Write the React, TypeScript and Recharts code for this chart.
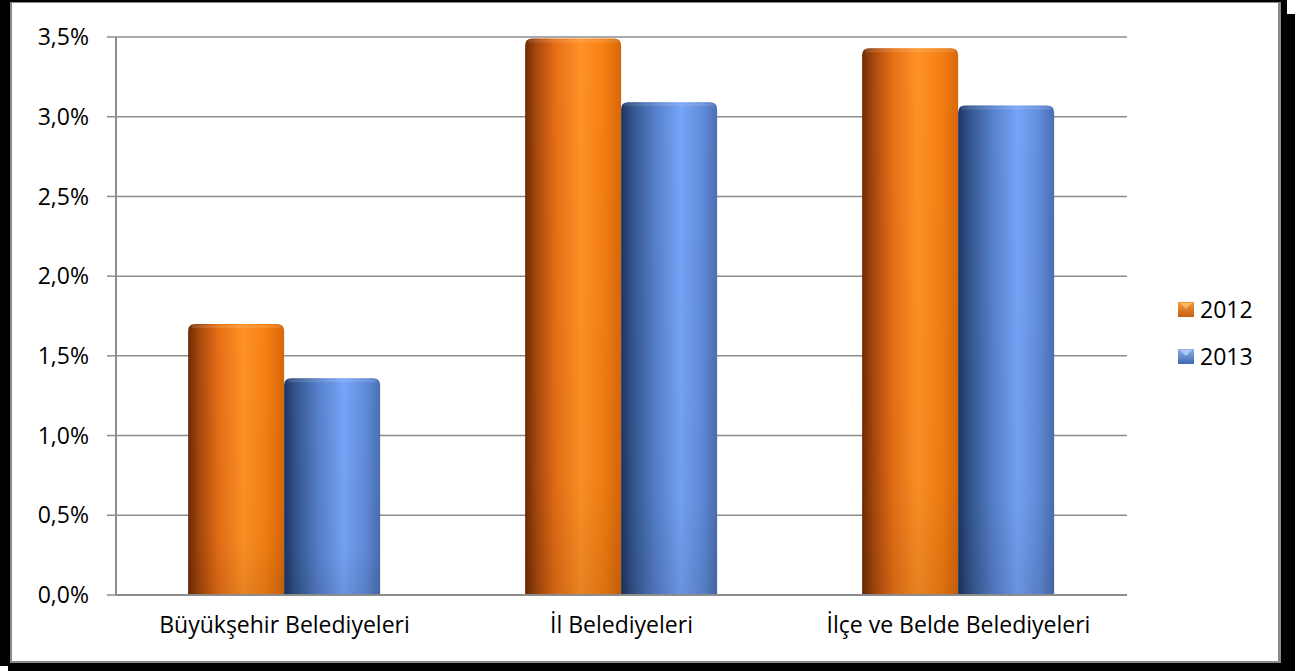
import React from 'react';
import { BarChart, Bar, XAxis, YAxis, CartesianGrid, Legend } from 'recharts';

const categories = ['Büyükşehir Belediyeleri', 'İl Belediyeleri', 'İlçe ve Belde Belediyeleri'];
const values2012 = [1.7, 3.49, 3.43];
const values2013 = [1.36, 3.09, 3.07];
const yTicks = [0, 0.5, 1, 1.5, 2, 2.5, 3, 3.5];
const boundaryTicks = [0, 1, 2, 3];
const seriesNames = ['2012', '2013'];

const data = categories.map((c, i) => ({ name: c, s2012: values2012[i], s2013: values2013[i] }));

const FONT = '"Open Sans", sans-serif';

const fmt = (v: number) => v.toFixed(1).replace('.', ',') + '%';

const BarShape = (props: any) => {
  const { x, y, width, height, gradId } = props;
  if (!height || height <= 0) return null;
  const r = Math.min(7, width / 2, height);
  const d = `M${x},${y + height} L${x},${y + r} Q${x},${y} ${x + r},${y} L${x + width - r},${y} Q${x + width},${y} ${x + width},${y + r} L${x + width},${y + height} Z`;
  return (
    <g>
      <path d={d} fill={`url(#${gradId})`} />
      <path d={d} fill="url(#vshade)" />
      <rect x={x + 3} y={y + 1} width={width - 6} height={3} rx={1.5} fill="#ffffff" opacity={0.12} />
    </g>
  );
};

const LegendMarker = ({ id }: { id: string }) => (
  <svg width={16} height={15} style={{ display: 'block' }}>
    <defs>
      <linearGradient id={`lm${id}`} x1="0" y1="0" x2="0" y2="1">
        {id === '2012' ? (
          <>
            <stop offset="0%" stopColor="#f59a3c" />
            <stop offset="100%" stopColor="#c65f10" />
          </>
        ) : (
          <>
            <stop offset="0%" stopColor="#8cb2ee" />
            <stop offset="100%" stopColor="#3f68ae" />
          </>
        )}
      </linearGradient>
    </defs>
    <rect x={0} y={0} width={16} height={15} fill={`url(#lm${id})`} />
    <polygon points="2,1 14,1 8,7" fill={id === '2012' ? '#ffc070' : '#b8d2ff'} opacity={0.8} />
  </svg>
);

const renderLegend = () => (
  <div style={{ fontFamily: FONT, fontSize: 23, color: '#000' }}>
    {seriesNames.map((n) => (
      <div key={n} style={{ display: 'flex', alignItems: 'center', height: 47 }}>
        <LegendMarker id={n} />
        <span style={{ marginLeft: 6, lineHeight: '23px' }}>{n}</span>
      </div>
    ))}
  </div>
);

export default function App() {
  return (
    <div style={{ position: 'absolute', left: 0, top: 0, width: 1302, height: 671, background: '#fff', overflow: 'hidden' }}>
      {/* shadow */}
      <div style={{ position: 'absolute', left: 8, top: 14, width: 1287, height: 657, background: '#000' }} />
      {/* frame */}
      <div style={{ position: 'absolute', left: 0, top: 0, width: 1287, height: 666, background: '#000' }} />
      <div style={{ position: 'absolute', left: 10, top: 2, width: 1271, height: 661, background: '#8a8a8a' }} />
      <div style={{ position: 'absolute', left: 12, top: 3, width: 1266, height: 658, background: '#fff' }} />
      <div style={{ position: 'absolute', left: 0, top: 0 }}>
        <BarChart
          width={1281}
          height={661}
          data={data}
          margin={{ top: 37, right: 154, left: 16, bottom: 26 }}
          barCategoryGap="21.4%"
          barGap={0}
        >
          <defs>
            <linearGradient id="gOrange" x1="0" y1="0" x2="1" y2="0">
              <stop offset="0%" stopColor="#6e2c06" />
              <stop offset="12%" stopColor="#a9490c" />
              <stop offset="32%" stopColor="#e86f16" />
              <stop offset="58%" stopColor="#ff9226" />
              <stop offset="82%" stopColor="#f57f12" />
              <stop offset="100%" stopColor="#d8670a" />
            </linearGradient>
            <linearGradient id="gBlue" x1="0" y1="0" x2="1" y2="0">
              <stop offset="0%" stopColor="#1d3560" />
              <stop offset="12%" stopColor="#34558f" />
              <stop offset="35%" stopColor="#557fc9" />
              <stop offset="62%" stopColor="#76a4f8" />
              <stop offset="84%" stopColor="#628ddc" />
              <stop offset="100%" stopColor="#4a6fb2" />
            </linearGradient>
            <linearGradient id="vshade" x1="0" y1="0" x2="0" y2="1">
              <stop offset="0%" stopColor="#000" stopOpacity={0} />
              <stop offset="80%" stopColor="#000" stopOpacity={0.03} />
              <stop offset="100%" stopColor="#000" stopOpacity={0.1} />
            </linearGradient>
          </defs>
          <CartesianGrid xAxisId="cat" vertical={false} stroke="#8c8c8c" strokeWidth={1.5} />
          <XAxis
            xAxisId="b"
            type="number"
            domain={[0, 3]}
            ticks={boundaryTicks}
            height={0}
            axisLine={false}
            tickLine={{ stroke: '#8c8c8c', strokeWidth: 1.5 }}
            tickSize={8}
            tickFormatter={() => ''}
            allowDataOverflow
          />
          <XAxis
            xAxisId="cat"
            dataKey="name"
            height={40}
            axisLine={{ stroke: '#8c8c8c', strokeWidth: 2 }}
            tickLine={false}
            tickSize={0}
            tickMargin={22}
            tick={{ fill: '#000', fontSize: 23, fontFamily: FONT }}
            interval={0}
          />
          <YAxis
            width={100}
            domain={[0, 3.5]}
            ticks={yTicks}
            tickFormatter={fmt}
            axisLine={{ stroke: '#8c8c8c', strokeWidth: 2 }}
            tickLine={{ stroke: '#8c8c8c', strokeWidth: 1.5 }}
            tickSize={9}
            tickMargin={18}
            tick={{ fill: '#000', fontSize: 23, fontFamily: FONT }}
            allowDataOverflow
          />
          <Legend
            layout="horizontal"
            align="center"
            verticalAlign="middle"
            content={renderLegend}
            wrapperStyle={{ position: 'absolute', left: 1178, top: 286, width: 100 }}
          />
          <Bar xAxisId="cat" dataKey="s2012" name="2012" isAnimationActive={false} shape={(p: any) => <BarShape {...p} gradId="gOrange" />} />
          <Bar xAxisId="cat" dataKey="s2013" name="2013" isAnimationActive={false} shape={(p: any) => <BarShape {...p} gradId="gBlue" />} />
        </BarChart>
      </div>
    </div>
  );
}
